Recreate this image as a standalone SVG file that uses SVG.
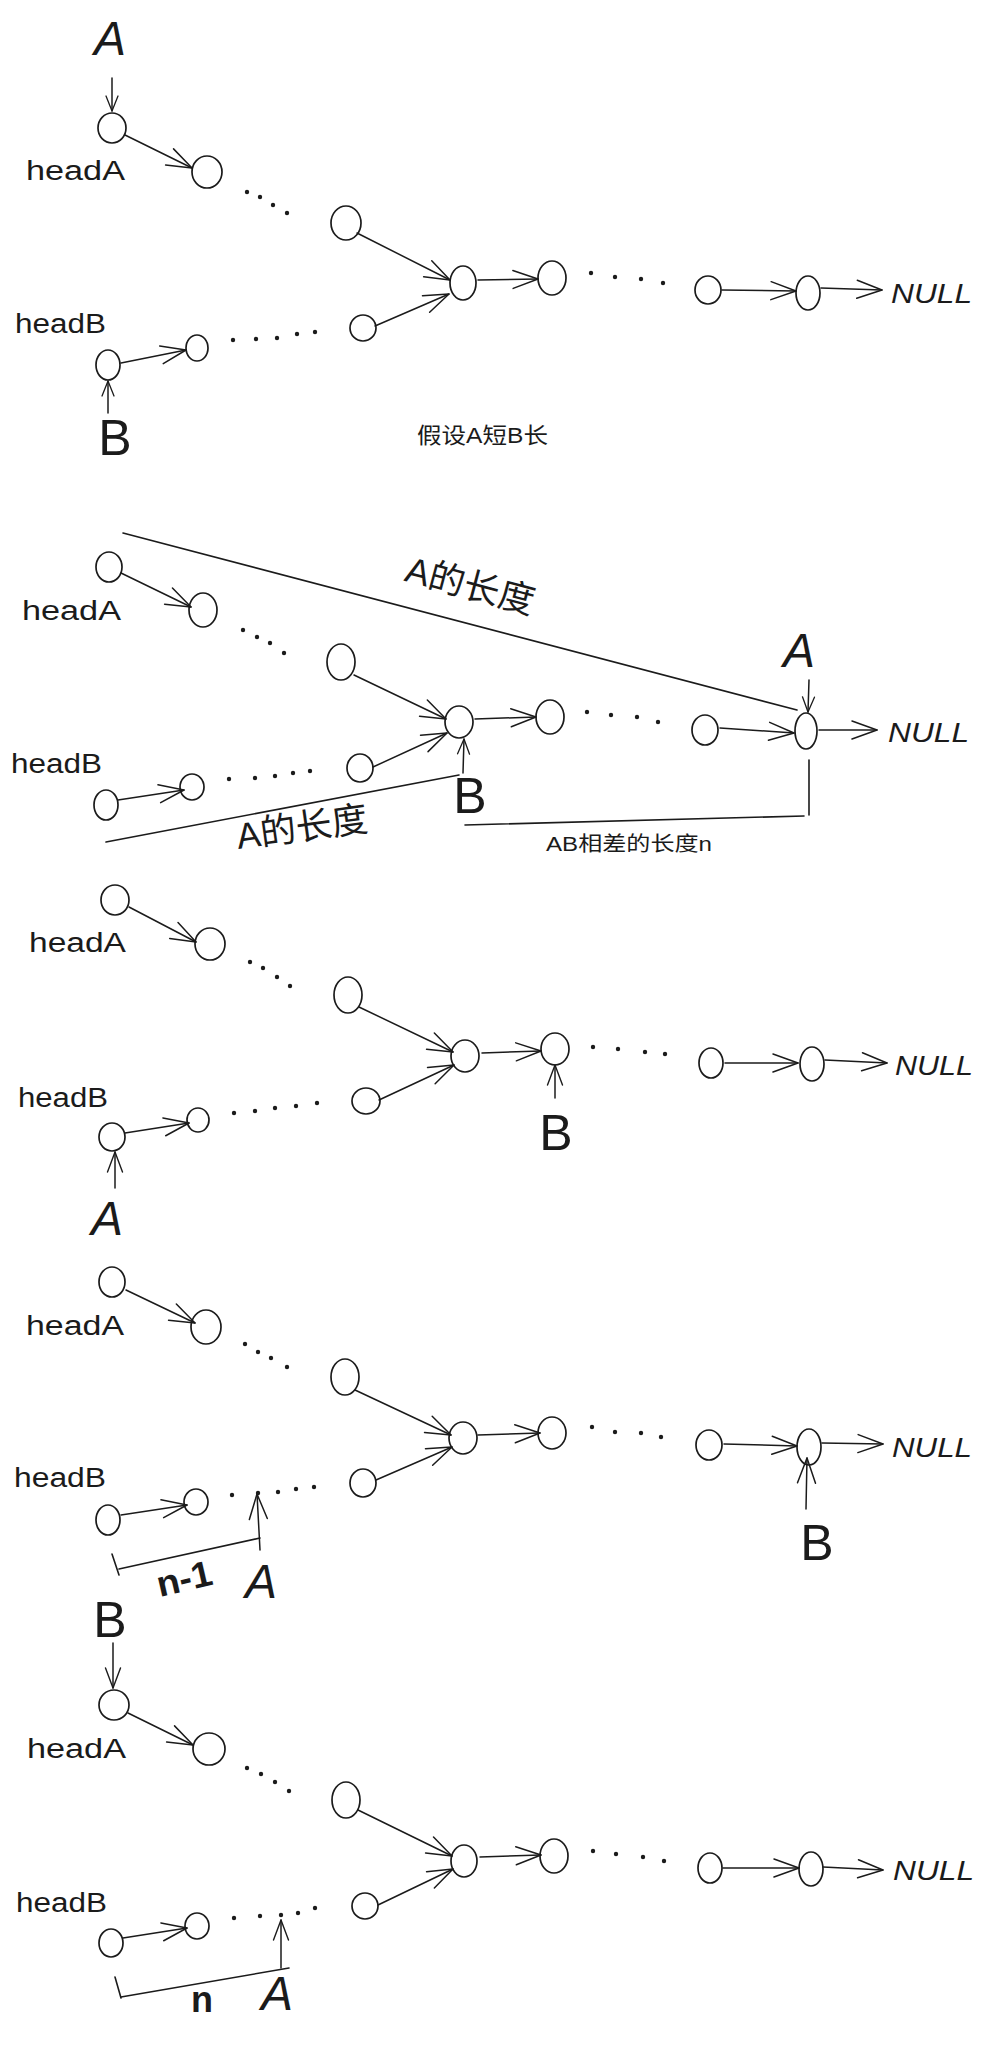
<svg xmlns="http://www.w3.org/2000/svg" width="986" height="2045" viewBox="0 0 986 2045">
  <defs>
    <style>
      .node { fill: none; stroke: #1b1b1b; stroke-width: 1.7; }
      .edge { fill: none; stroke: #1b1b1b; stroke-width: 1.5; stroke-linecap: round; }
      .edge-l { marker-end: url(#ah-l); }
      .edge-m { marker-end: url(#ah-m); }
      .edge-s { marker-end: url(#ah-s); }
      .measure { fill: none; stroke: #1b1b1b; stroke-width: 1.6; stroke-linecap: round; }
      .dot { fill: #1b1b1b; }
      .head { font-family: "Liberation Sans", sans-serif; font-size: 27px; fill: #1b1b1b; }
      .null { font-family: "Liberation Sans", sans-serif; font-style: italic; font-size: 27px; fill: #1b1b1b; }
      .ptr { font-family: "Liberation Sans", sans-serif; font-style: italic; font-size: 48px; fill: #1b1b1b; text-anchor: middle; }
      .ptrb { font-family: "Liberation Sans", sans-serif; font-size: 50px; fill: #1b1b1b; text-anchor: middle; }
      .zh { font-family: "Liberation Sans", "Noto Sans CJK SC", sans-serif; fill: #1b1b1b; }
      .num { font-family: "Liberation Sans", sans-serif; font-weight: bold; font-size: 36px; fill: #1b1b1b; text-anchor: middle; }
    </style>
    <marker id="ah-l" viewBox="0 0 25 18" refX="25" refY="9" markerWidth="25" markerHeight="18" markerUnits="userSpaceOnUse" orient="auto" overflow="visible">
      <path d="M0,0 L25,9 L0,18" fill="none" stroke="#1b1b1b" stroke-width="1.5" stroke-linecap="round" stroke-linejoin="round"/>
    </marker>
    <marker id="ah-m" viewBox="0 0 20 15" refX="20" refY="7.5" markerWidth="20" markerHeight="15" markerUnits="userSpaceOnUse" orient="auto" overflow="visible">
      <path d="M0,0 L20,7.5 L0,15" fill="none" stroke="#1b1b1b" stroke-width="1.4" stroke-linecap="round" stroke-linejoin="round"/>
    </marker>
    <marker id="ah-s" viewBox="0 0 15 12" refX="15" refY="6" markerWidth="15" markerHeight="12" markerUnits="userSpaceOnUse" orient="auto" overflow="visible">
      <path d="M0,0 L15,6 L0,12" fill="none" stroke="#1b1b1b" stroke-width="1.3" stroke-linecap="round" stroke-linejoin="round"/>
    </marker>
  </defs>

  <rect width="986" height="2045" fill="#ffffff"/>

  <!-- ===== Stage 1: two lists meeting at a shared node ===== -->
  <g id="stage1">
    <g id="s1-a1"><ellipse class="node" cx="112" cy="128" rx="14" ry="15"/></g>
    <g id="s1-a2"><ellipse class="node" cx="207" cy="172" rx="15" ry="16"/></g>
    <g id="s1-a3"><ellipse class="node" cx="346" cy="223" rx="15" ry="17"/></g>
    <g id="s1-m"><ellipse class="node" cx="463" cy="283" rx="13" ry="17"/></g>
    <g id="s1-n2"><ellipse class="node" cx="552" cy="278" rx="14" ry="17"/></g>
    <g id="s1-n3"><ellipse class="node" cx="708" cy="290" rx="13" ry="14"/></g>
    <g id="s1-n4"><ellipse class="node" cx="808" cy="293" rx="12" ry="17"/></g>
    <g id="s1-b3"><ellipse class="node" cx="363" cy="328" rx="13" ry="13"/></g>
    <g id="s1-b1"><ellipse class="node" cx="108" cy="365" rx="12" ry="15"/></g>
    <g id="s1-b2"><ellipse class="node" cx="197" cy="348" rx="11" ry="13"/></g>

    <g id="s1-dots">
      <circle class="dot" cx="247" cy="192" r="2.2"/><circle class="dot" cx="260" cy="197" r="2.2"/>
      <circle class="dot" cx="273" cy="205" r="2.2"/><circle class="dot" cx="287" cy="213" r="2.2"/>
      <circle class="dot" cx="233" cy="340" r="2.2"/><circle class="dot" cx="256" cy="339" r="2.2"/>
      <circle class="dot" cx="277" cy="338" r="2.2"/><circle class="dot" cx="297" cy="334" r="2.2"/>
      <circle class="dot" cx="315" cy="332" r="2.2"/>
      <circle class="dot" cx="591" cy="273" r="2.2"/><circle class="dot" cx="615" cy="277" r="2.2"/>
      <circle class="dot" cx="641" cy="279" r="2.2"/><circle class="dot" cx="663" cy="283" r="2.2"/>
    </g>

    <g id="s1-labels">
      <text class="ptr" x="110" y="55">A</text>
      <text class="head" x="26" y="180" textLength="99" lengthAdjust="spacingAndGlyphs">headA</text>
      <text class="head" x="15" y="333" textLength="91" lengthAdjust="spacingAndGlyphs">headB</text>
      <text class="ptrb" x="115" y="455">B</text>
      <text class="null" x="891" y="303" textLength="81" lengthAdjust="spacingAndGlyphs">NULL</text>
      <text class="zh" x="417" y="443" font-size="22" textLength="131" lengthAdjust="spacingAndGlyphs">假设A短B长</text>
    </g>

    <g id="s1-connectors">
      <line class="edge edge-s" x1="112" y1="78" x2="112" y2="111"/>
      <line class="edge edge-l" x1="125" y1="135" x2="192" y2="168"/>
      <line class="edge edge-l" x1="357" y1="233" x2="450" y2="280"/>
      <line class="edge edge-l" x1="375" y1="326" x2="449" y2="294"/>
      <line class="edge edge-l" x1="478" y1="280" x2="538" y2="279"/>
      <line class="edge edge-l" x1="722" y1="290" x2="796" y2="291"/>
      <line class="edge edge-l" x1="821" y1="288" x2="882" y2="290"/>
      <line class="edge edge-l" x1="121" y1="363" x2="186" y2="350"/>
      <line class="edge edge-s" x1="108" y1="413" x2="108" y2="381"/>
    </g>
  </g>

  <!-- ===== Stage 2: A reaches the tail, B is at the shared node ===== -->
  <g id="stage2">
    <g id="s2-a1"><ellipse class="node" cx="109" cy="567" rx="13" ry="15"/></g>
    <g id="s2-a2"><ellipse class="node" cx="203" cy="610" rx="14" ry="17"/></g>
    <g id="s2-a3"><ellipse class="node" cx="341" cy="662" rx="14" ry="18"/></g>
    <g id="s2-m"><ellipse class="node" cx="459" cy="722" rx="14" ry="16"/></g>
    <g id="s2-n2"><ellipse class="node" cx="550" cy="717" rx="14" ry="17"/></g>
    <g id="s2-n3"><ellipse class="node" cx="705" cy="730" rx="13" ry="15"/></g>
    <g id="s2-n4"><ellipse class="node" cx="806" cy="731" rx="11" ry="18"/></g>
    <g id="s2-b3"><ellipse class="node" cx="360" cy="768" rx="13" ry="14"/></g>
    <g id="s2-b1"><ellipse class="node" cx="106" cy="805" rx="12" ry="15"/></g>
    <g id="s2-b2"><ellipse class="node" cx="192" cy="787" rx="12" ry="13"/></g>

    <g id="s2-dots">
      <circle class="dot" cx="243" cy="630" r="2.2"/><circle class="dot" cx="257" cy="637" r="2.2"/>
      <circle class="dot" cx="270" cy="643" r="2.2"/><circle class="dot" cx="284" cy="653" r="2.2"/>
      <circle class="dot" cx="229" cy="779" r="2.2"/><circle class="dot" cx="255" cy="778" r="2.2"/>
      <circle class="dot" cx="275" cy="776" r="2.2"/><circle class="dot" cx="293" cy="773" r="2.2"/>
      <circle class="dot" cx="310" cy="771" r="2.2"/>
      <circle class="dot" cx="587" cy="712" r="2.2"/><circle class="dot" cx="611" cy="715" r="2.2"/>
      <circle class="dot" cx="637" cy="717" r="2.2"/><circle class="dot" cx="658" cy="722" r="2.2"/>
    </g>

    <g id="s2-labels">
      <text class="head" x="22" y="620" textLength="99" lengthAdjust="spacingAndGlyphs">headA</text>
      <text class="head" x="11" y="773" textLength="91" lengthAdjust="spacingAndGlyphs">headB</text>
      <text class="ptr" x="799" y="667">A</text>
      <text class="ptrb" x="470" y="813">B</text>
      <text class="null" x="888" y="742" textLength="81" lengthAdjust="spacingAndGlyphs">NULL</text>
      <g transform="translate(470,586) rotate(15)">
        <text class="zh" x="0" y="12" font-size="36" text-anchor="middle">A的长度</text>
      </g>
      <g transform="translate(302,828) rotate(-8)">
        <text class="zh" x="0" y="12" font-size="36" text-anchor="middle">A的长度</text>
      </g>
      <text class="zh" x="546" y="851" font-size="20" textLength="166" lengthAdjust="spacingAndGlyphs">AB相差的长度n</text>
    </g>

    <g id="s2-measures">
      <line class="measure" x1="123" y1="533" x2="797" y2="710"/>
      <line class="measure" x1="106" y1="842" x2="459" y2="775"/>
      <line class="measure" x1="809" y1="760" x2="809" y2="815"/>
      <line class="measure" x1="465" y1="825" x2="804" y2="816"/>
    </g>

    <g id="s2-connectors">
      <line class="edge edge-l" x1="121" y1="573" x2="191" y2="607"/>
      <line class="edge edge-l" x1="354" y1="675" x2="446" y2="719"/>
      <line class="edge edge-l" x1="373" y1="767" x2="447" y2="733"/>
      <line class="edge edge-l" x1="475" y1="719" x2="536" y2="717"/>
      <line class="edge edge-l" x1="720" y1="728" x2="794" y2="733"/>
      <line class="edge edge-l" x1="819" y1="730" x2="877" y2="730"/>
      <line class="edge edge-l" x1="118" y1="800" x2="184" y2="790"/>
      <line class="edge edge-s" x1="463" y1="773" x2="464" y2="739"/>
      <line class="edge edge-s" x1="809" y1="680" x2="808" y2="712"/>
    </g>
  </g>

  <!-- ===== Stage 3: A moves to headB, B moves one step on ===== -->
  <g id="stage3">
    <g id="s3-a1"><ellipse class="node" cx="115" cy="900" rx="14" ry="15"/></g>
    <g id="s3-a2"><ellipse class="node" cx="210" cy="944" rx="15" ry="16"/></g>
    <g id="s3-a3"><ellipse class="node" cx="348" cy="995" rx="14" ry="18"/></g>
    <g id="s3-m"><ellipse class="node" cx="465" cy="1056" rx="14" ry="16"/></g>
    <g id="s3-n2"><ellipse class="node" cx="555" cy="1049" rx="14" ry="16"/></g>
    <g id="s3-n3"><ellipse class="node" cx="711" cy="1063" rx="12" ry="15"/></g>
    <g id="s3-n4"><ellipse class="node" cx="812" cy="1064" rx="12" ry="17"/></g>
    <g id="s3-b3"><ellipse class="node" cx="366" cy="1101" rx="14" ry="13"/></g>
    <g id="s3-b1"><ellipse class="node" cx="112" cy="1137" rx="13" ry="14"/></g>
    <g id="s3-b2"><ellipse class="node" cx="198" cy="1120" rx="11" ry="12"/></g>

    <g id="s3-dots">
      <circle class="dot" cx="250" cy="962" r="2.2"/><circle class="dot" cx="263" cy="968" r="2.2"/>
      <circle class="dot" cx="277" cy="977" r="2.2"/><circle class="dot" cx="290" cy="986" r="2.2"/>
      <circle class="dot" cx="234" cy="1113" r="2.2"/><circle class="dot" cx="255" cy="1111" r="2.2"/>
      <circle class="dot" cx="275" cy="1108" r="2.2"/><circle class="dot" cx="296" cy="1106" r="2.2"/>
      <circle class="dot" cx="317" cy="1103" r="2.2"/>
      <circle class="dot" cx="593" cy="1047" r="2.2"/><circle class="dot" cx="618" cy="1049" r="2.2"/>
      <circle class="dot" cx="645" cy="1052" r="2.2"/><circle class="dot" cx="665" cy="1054" r="2.2"/>
    </g>

    <g id="s3-labels">
      <text class="head" x="29" y="952" textLength="97" lengthAdjust="spacingAndGlyphs">headA</text>
      <text class="head" x="18" y="1107" textLength="90" lengthAdjust="spacingAndGlyphs">headB</text>
      <text class="ptrb" x="556" y="1150">B</text>
      <text class="ptr" x="107" y="1235">A</text>
      <text class="null" x="895" y="1075" textLength="78" lengthAdjust="spacingAndGlyphs">NULL</text>
    </g>

    <g id="s3-connectors">
      <line class="edge edge-l" x1="129" y1="907" x2="196" y2="942"/>
      <line class="edge edge-l" x1="359" y1="1007" x2="453" y2="1052"/>
      <line class="edge edge-l" x1="379" y1="1100" x2="454" y2="1065"/>
      <line class="edge edge-l" x1="482" y1="1053" x2="541" y2="1051"/>
      <line class="edge edge-l" x1="725" y1="1063" x2="798" y2="1063"/>
      <line class="edge edge-l" x1="825" y1="1060" x2="887" y2="1063"/>
      <line class="edge edge-l" x1="125" y1="1133" x2="189" y2="1123"/>
      <line class="edge edge-m" x1="555" y1="1098" x2="555" y2="1065"/>
      <line class="edge edge-m" x1="115" y1="1188" x2="115" y2="1152"/>
    </g>
  </g>

  <!-- ===== Stage 4: B reaches the tail, A has walked n-1 steps ===== -->
  <g id="stage4">
    <g id="s4-a1"><ellipse class="node" cx="112" cy="1282" rx="13" ry="15"/></g>
    <g id="s4-a2"><ellipse class="node" cx="206" cy="1327" rx="15" ry="17"/></g>
    <g id="s4-a3"><ellipse class="node" cx="345" cy="1377" rx="14" ry="18"/></g>
    <g id="s4-m"><ellipse class="node" cx="463" cy="1438" rx="14" ry="16"/></g>
    <g id="s4-n2"><ellipse class="node" cx="552" cy="1433" rx="14" ry="16"/></g>
    <g id="s4-n3"><ellipse class="node" cx="709" cy="1445" rx="13" ry="15"/></g>
    <g id="s4-n4"><ellipse class="node" cx="809" cy="1447" rx="12" ry="18"/></g>
    <g id="s4-b3"><ellipse class="node" cx="363" cy="1483" rx="13" ry="14"/></g>
    <g id="s4-b1"><ellipse class="node" cx="108" cy="1520" rx="12" ry="15"/></g>
    <g id="s4-b2"><ellipse class="node" cx="196" cy="1502" rx="12" ry="13"/></g>

    <g id="s4-dots">
      <circle class="dot" cx="245" cy="1344" r="2.2"/><circle class="dot" cx="258" cy="1352" r="2.2"/>
      <circle class="dot" cx="271" cy="1358" r="2.2"/><circle class="dot" cx="287" cy="1367" r="2.2"/>
      <circle class="dot" cx="232" cy="1495" r="2.2"/><circle class="dot" cx="258" cy="1493" r="2.2"/>
      <circle class="dot" cx="278" cy="1492" r="2.2"/><circle class="dot" cx="296" cy="1489" r="2.2"/>
      <circle class="dot" cx="314" cy="1487" r="2.2"/>
      <circle class="dot" cx="592" cy="1427" r="2.2"/><circle class="dot" cx="615" cy="1432" r="2.2"/>
      <circle class="dot" cx="641" cy="1433" r="2.2"/><circle class="dot" cx="661" cy="1437" r="2.2"/>
    </g>

    <g id="s4-labels">
      <text class="head" x="26" y="1335" textLength="98" lengthAdjust="spacingAndGlyphs">headA</text>
      <text class="head" x="14" y="1487" textLength="92" lengthAdjust="spacingAndGlyphs">headB</text>
      <text class="null" x="892" y="1457" textLength="80" lengthAdjust="spacingAndGlyphs">NULL</text>
      <text class="ptrb" x="817" y="1560">B</text>
      <text class="ptr" x="261" y="1598">A</text>
      <g transform="translate(184,1578) rotate(-13)">
        <text class="num" x="0" y="13" textLength="56" lengthAdjust="spacingAndGlyphs">n-1</text>
      </g>
    </g>

    <g id="s4-measures">
      <line class="measure" x1="119" y1="1569" x2="260" y2="1538"/>
      <line class="measure" x1="112" y1="1554" x2="119" y2="1575"/>
    </g>

    <g id="s4-connectors">
      <line class="edge edge-l" x1="126" y1="1290" x2="195" y2="1323"/>
      <line class="edge edge-l" x1="355" y1="1390" x2="451" y2="1435"/>
      <line class="edge edge-l" x1="376" y1="1480" x2="452" y2="1447"/>
      <line class="edge edge-l" x1="478" y1="1435" x2="540" y2="1433"/>
      <line class="edge edge-l" x1="724" y1="1444" x2="797" y2="1446"/>
      <line class="edge edge-l" x1="822" y1="1443" x2="883" y2="1444"/>
      <line class="edge edge-l" x1="121" y1="1515" x2="187" y2="1505"/>
      <line class="edge edge-l" x1="806" y1="1509" x2="807" y2="1458"/>
      <line class="edge edge-l" x1="260" y1="1550" x2="257" y2="1494"/>
    </g>
  </g>

  <!-- ===== Stage 5: B moves to headA, A has walked n steps ===== -->
  <g id="stage5">
    <g id="s5-a1"><ellipse class="node" cx="114" cy="1705" rx="15" ry="15"/></g>
    <g id="s5-a2"><ellipse class="node" cx="209" cy="1749" rx="16" ry="16"/></g>
    <g id="s5-a3"><ellipse class="node" cx="346" cy="1800" rx="14" ry="18"/></g>
    <g id="s5-m"><ellipse class="node" cx="464" cy="1861" rx="13" ry="16"/></g>
    <g id="s5-n2"><ellipse class="node" cx="554" cy="1856" rx="14" ry="17"/></g>
    <g id="s5-n3"><ellipse class="node" cx="710" cy="1868" rx="12" ry="15"/></g>
    <g id="s5-n4"><ellipse class="node" cx="811" cy="1869" rx="12" ry="17"/></g>
    <g id="s5-b3"><ellipse class="node" cx="365" cy="1906" rx="13" ry="13"/></g>
    <g id="s5-b1"><ellipse class="node" cx="111" cy="1943" rx="12" ry="14"/></g>
    <g id="s5-b2"><ellipse class="node" cx="197" cy="1926" rx="12" ry="13"/></g>

    <g id="s5-dots">
      <circle class="dot" cx="247" cy="1768" r="2.2"/><circle class="dot" cx="261" cy="1774" r="2.2"/>
      <circle class="dot" cx="275" cy="1782" r="2.2"/><circle class="dot" cx="289" cy="1791" r="2.2"/>
      <circle class="dot" cx="234" cy="1918" r="2.2"/><circle class="dot" cx="260" cy="1916" r="2.2"/>
      <circle class="dot" cx="281" cy="1915" r="2.2"/><circle class="dot" cx="298" cy="1913" r="2.2"/>
      <circle class="dot" cx="315" cy="1908" r="2.2"/>
      <circle class="dot" cx="593" cy="1851" r="2.2"/><circle class="dot" cx="616" cy="1854" r="2.2"/>
      <circle class="dot" cx="643" cy="1857" r="2.2"/><circle class="dot" cx="664" cy="1861" r="2.2"/>
    </g>

    <g id="s5-labels">
      <text class="ptrb" x="110" y="1637">B</text>
      <text class="head" x="27" y="1758" textLength="99" lengthAdjust="spacingAndGlyphs">headA</text>
      <text class="head" x="16" y="1912" textLength="91" lengthAdjust="spacingAndGlyphs">headB</text>
      <text class="null" x="893" y="1880" textLength="81" lengthAdjust="spacingAndGlyphs">NULL</text>
      <text class="num" x="202" y="2012">n</text>
      <text class="ptr" x="277" y="2010">A</text>
    </g>

    <g id="s5-measures">
      <line class="measure" x1="121" y1="1997" x2="289" y2="1968"/>
      <line class="measure" x1="115" y1="1977" x2="121" y2="1998"/>
    </g>

    <g id="s5-connectors">
      <line class="edge edge-m" x1="113" y1="1643" x2="113" y2="1688"/>
      <line class="edge edge-l" x1="128" y1="1713" x2="193" y2="1745"/>
      <line class="edge edge-l" x1="358" y1="1810" x2="452" y2="1856"/>
      <line class="edge edge-l" x1="378" y1="1905" x2="453" y2="1869"/>
      <line class="edge edge-l" x1="480" y1="1857" x2="541" y2="1855"/>
      <line class="edge edge-l" x1="723" y1="1868" x2="799" y2="1868"/>
      <line class="edge edge-l" x1="823" y1="1867" x2="883" y2="1870"/>
      <line class="edge edge-l" x1="123" y1="1938" x2="187" y2="1928"/>
      <line class="edge edge-m" x1="281" y1="1968" x2="281" y2="1920"/>
    </g>
  </g>
</svg>
